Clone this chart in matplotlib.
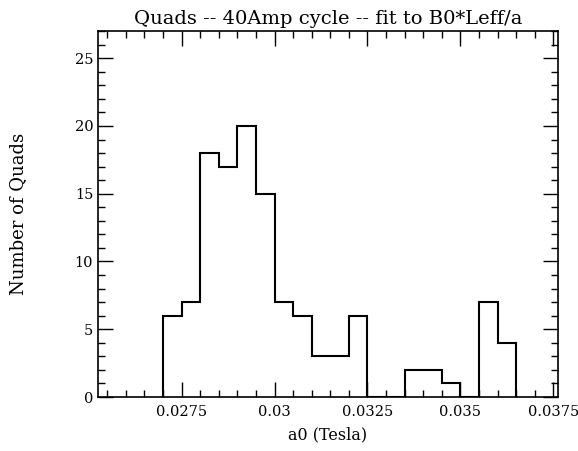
import numpy as np
import matplotlib
matplotlib.use("Agg")
import matplotlib.pyplot as plt
from matplotlib.ticker import MultipleLocator, FixedLocator

# bin edges (Tesla) and counts
bin_edges = [0.0270, 0.0275, 0.0280, 0.0285, 0.0290, 0.0295, 0.0300, 0.0305,
             0.0310, 0.0315, 0.0320, 0.0325, 0.0330, 0.0335, 0.0340, 0.0345,
             0.0350, 0.0355, 0.0360, 0.0365]
counts = [6, 7, 18, 17, 20, 15, 7, 6, 3, 3, 6, 0, 0, 2, 2, 1, 0, 7, 4]
xticks = [0.0275, 0.03, 0.0325, 0.035, 0.0375]
xtick_labels = ["0.0275", "0.03", "0.0325", "0.035", "0.0375"]

plt.rcParams['font.family'] = ['DejaVu Serif']

fig = plt.figure(figsize=(5.78, 4.51), dpi=100)
ax = fig.add_axes([0.1696, 0.1197, 0.7954, 0.8113])

ax.stairs(counts, bin_edges, color='black', linewidth=1.5, baseline=0)

ax.set_xlim(0.02525, 0.03762)
ax.set_ylim(0, 27)

ax.xaxis.set_major_locator(FixedLocator(xticks))
ax.set_xticklabels(xtick_labels)
ax.xaxis.set_minor_locator(MultipleLocator(0.0005))
ax.yaxis.set_major_locator(MultipleLocator(5))
ax.yaxis.set_minor_locator(MultipleLocator(1))

ax.tick_params(which='both', direction='in', top=True, right=True,
               width=1.0, labelsize=10.5)
ax.tick_params(which='major', length=11)
ax.tick_params(which='minor', length=5)
ax.tick_params(axis='x', pad=6)
for s in ax.spines.values():
    s.set_linewidth(1.2)

ax.set_xlabel("a0 (Tesla)", fontsize=11.5, labelpad=5)
ax.set_ylabel("Number of Quads", fontsize=13)
ax.yaxis.set_label_coords(-0.155, 0.5)
ax.set_title("Quads -- 40Amp cycle -- fit to B0*Leff/a", fontsize=14, pad=5)

fig.savefig("out.png", dpi=100)
